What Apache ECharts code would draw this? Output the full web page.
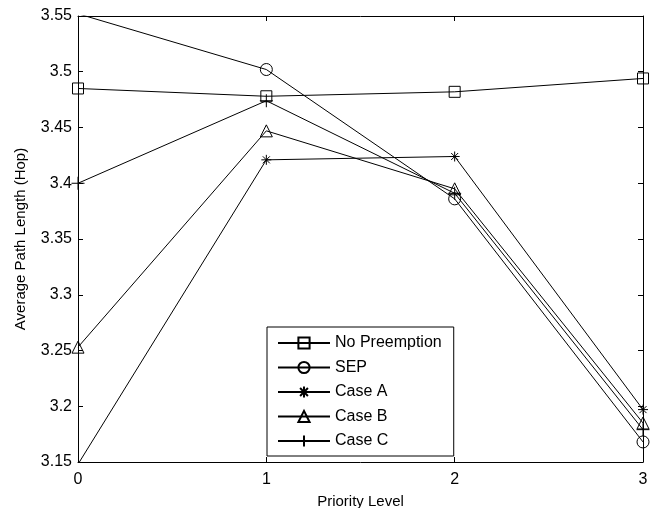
<!DOCTYPE html>
<html>
<head>
<meta charset="utf-8">
<script src="https://cdn.jsdelivr.net/npm/echarts@6/dist/echarts.min.js"></script>
<style>
  html, body { margin: 0; padding: 0; background: #fff; }
  #chart { width: 664px; height: 508px; }
</style>
</head>
<body>
<div id="chart"></div>
<script>
// Priority levels on the x axis
var priorityLevels = [0, 1, 2, 3];

// Average path length (hops) per scheme
var noPreemption = [3.485, 3.478, 3.482, 3.494];
var sep          = [3.552, 3.502, 3.386, 3.168];
var caseA        = [3.148, 3.421, 3.424, 3.197];
var caseB        = [3.253, 3.447, 3.395, 3.185];
var caseC        = [3.400, 3.474, 3.391, 3.179];

var seriesNames = ['No Preemption', 'SEP', 'Case A', 'Case B', 'Case C'];

var FONT = 'Liberation Sans, Arial, sans-serif';

// Marker shapes (outline only)
var markers = {
  'No Preemption': { symbol: 'rect', size: 11 },
  'SEP': { symbol: 'circle', size: 12 },
  'Case A': { symbol: 'path://M5,0L5,10M0,5L10,5M1.5,1.5L8.5,8.5M1.5,8.5L8.5,1.5', size: 10 },
  'Case B': { symbol: 'triangle', size: 12 },
  'Case C': { symbol: 'path://M5,0L5,10M0,5L10,5', size: 13 }
};

function pairs(values) {
  return priorityLevels.map(function (x, i) { return [x, values[i]]; });
}

var valuesByName = {
  'No Preemption': noPreemption,
  'SEP': sep,
  'Case A': caseA,
  'Case B': caseB,
  'Case C': caseC
};

var series = seriesNames.map(function (name) {
  var m = markers[name];
  return {
    name: name,
    type: 'line',
    data: pairs(valuesByName[name]),
    clip: true,
    symbol: m.symbol,
    symbolSize: m.size,
    showAllSymbol: true,
    lineStyle: { color: '#000', width: 1 },
    itemStyle: { color: 'rgba(0,0,0,0)', borderColor: '#000', borderWidth: 1 },
    emphasis: { disabled: true },
    animation: false
  };
});

var chart = echarts.init(document.getElementById('chart'), null, { renderer: 'canvas' });

var axisCommon = {
  axisLine: { show: true, onZero: false, lineStyle: { color: '#000', width: 1 } },
  axisTick: { show: true, inside: true, length: 5, lineStyle: { color: '#000' } },
  splitLine: { show: false }
};

chart.setOption({
  animation: false,
  backgroundColor: '#fff',
  grid: { left: 78, right: 21, top: 16, bottom: 46, containLabel: false, outerBoundsMode: 'none' },
  legend: {
    data: seriesNames,
    orient: 'vertical',
    left: 267,
    top: 327,
    padding: [8, 12, 7, 10],
    itemGap: 8.5,
    itemWidth: 52,
    itemHeight: 14,
    borderColor: '#000',
    borderWidth: 1,
    backgroundColor: '#fff',
    textStyle: { fontFamily: FONT, fontSize: 16, color: '#000' },
    selectedMode: false
  },
  xAxis: [
    Object.assign({
      type: 'value', min: 0, max: 3, interval: 1,
      name: 'Priority Level', nameLocation: 'middle', nameGap: 32,
      nameTextStyle: { fontFamily: FONT, fontSize: 15, color: '#000' },
      axisLabel: { fontFamily: FONT, fontSize: 16, color: '#000', margin: 10 }
    }, axisCommon),
    Object.assign({
      type: 'value', min: 0, max: 3, interval: 1, position: 'top',
      axisLabel: { show: false }
    }, axisCommon)
  ],
  yAxis: [
    Object.assign({
      type: 'value', min: 3.15, max: 3.55, interval: 0.05,
      name: 'Average Path Length (Hop)', nameLocation: 'middle', nameGap: 50,
      nameTextStyle: { fontFamily: FONT, fontSize: 15, color: '#000' },
      axisLabel: {
        fontFamily: FONT, fontSize: 16, color: '#000', margin: 6,
        formatter: function (v) { return String(parseFloat(v.toFixed(2))); }
      }
    }, axisCommon),
    Object.assign({
      type: 'value', min: 3.15, max: 3.55, interval: 0.05, position: 'right',
      axisLabel: { show: false }
    }, axisCommon)
  ],
  series: series
});
</script>
</body>
</html>
